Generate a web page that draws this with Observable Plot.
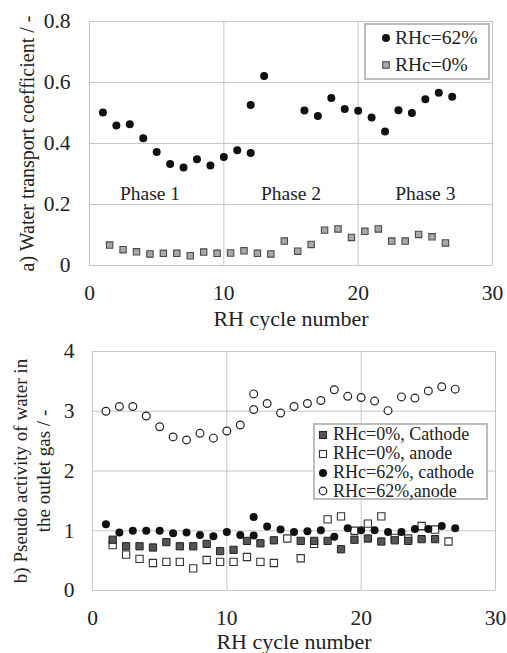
<!DOCTYPE html>
<html>
<head>
<meta charset="utf-8">
<script src="https://cdn.jsdelivr.net/npm/d3@7"></script>
<script src="https://cdn.jsdelivr.net/npm/@observablehq/plot@0.6"></script>
<style>
  html, body { margin: 0; padding: 0; background: #fff; }
  #chart { position: relative; width: 507px; height: 653px; font-family: 'Liberation Serif', serif; color: #222; }
  #chart svg.plot { display: block; }
  #chart svg text { font-family: 'Liberation Serif', serif; }
  .legend { position: absolute; background: #fff; border: 2px solid #bdbdbd; box-sizing: border-box; }
  .lg-sym { position: absolute; overflow: visible; }
  .lg-txt { position: absolute; white-space: nowrap; color: #222; font-family: 'Liberation Serif', serif; }
</style>
</head>
<body>
<div id="chart"></div>
<script>
// ---------- Panel a) data ----------
const aX62 = [1,2,3,4,5,6,7,8,9,10,11,12,12,13,16,17,18,19,20,21,22,23,24,25,26,27];
const aY62 = [0.502,0.459,0.463,0.417,0.372,0.333,0.321,0.348,0.328,0.356,0.378,0.369,0.526,0.621,0.508,0.490,0.549,0.513,0.507,0.485,0.439,0.509,0.500,0.545,0.566,0.553];
const aX0 = [1.5,2.5,3.5,4.5,5.5,6.5,7.5,8.5,9.5,10.5,11.5,12.5,13.5,14.5,15.5,16.5,17.5,18.5,19.5,20.5,21.5,22.5,23.5,24.5,25.5,26.5];
const aY0 = [0.067,0.052,0.045,0.038,0.040,0.040,0.032,0.044,0.040,0.041,0.048,0.040,0.038,0.080,0.047,0.069,0.116,0.120,0.092,0.112,0.120,0.080,0.080,0.102,0.094,0.074];
const phaseLabels = ["Phase 1","Phase 2","Phase 3"];
const phaseX = [4.5,15,25];
const phaseY = [0.235,0.235,0.235];
const aXTicks = [0,10,20,30];
const aYTicks = [0,0.2,0.4,0.6,0.8];

// ---------- Panel b) data ----------
const bX62 = [1,2,3,4,5,6,7,8,9,10,11,12,12,13,14,15,16,17,18,19,20,21,22,23,24,25,26,27];
const bAnode62 = [3.00,3.08,3.08,2.92,2.74,2.57,2.52,2.63,2.55,2.67,2.77,3.03,3.29,3.13,2.97,3.08,3.13,3.18,3.36,3.25,3.23,3.17,3.01,3.24,3.22,3.34,3.41,3.37];
const bCathode62 = [1.11,0.97,1.00,1.00,1.00,0.96,0.97,0.93,0.91,0.98,0.93,0.92,1.23,1.07,1.02,0.98,0.99,1.01,0.90,1.04,1.01,1.01,0.98,0.98,1.03,1.03,1.08,1.04];
const bXCathode0 = [1.5,2.5,3.5,4.5,5.5,6.5,7.5,8.5,9.5,10.5,11.5,12.5,13.5,15.5,16.5,17.5,18.5,19.5,20.5,21.5,22.5,23.5,24.5,25.5];
const bCathode0 = [0.85,0.74,0.74,0.72,0.81,0.74,0.74,0.78,0.66,0.68,0.83,0.79,0.84,0.83,0.83,0.83,0.69,0.85,0.87,0.82,0.84,0.83,0.86,0.86];
const bXAnode0 = [1.5,2.5,3.5,4.5,5.5,6.5,7.5,8.5,9.5,10.5,11.5,12.5,13.5,14.5,15.5,16.5,17.5,18.5,19.5,20.5,21.5,22.5,23.5,24.5,25.5,26.5];
const bAnode0 = [0.76,0.60,0.53,0.46,0.48,0.48,0.37,0.51,0.48,0.48,0.56,0.48,0.46,0.87,0.54,0.78,1.19,1.24,1.00,1.12,1.24,0.88,0.87,1.08,1.02,0.82];
const bXTicks = [0,10,20,30];
const bYTicks = [0,1,2,3,4];

const pts = (xs, ys) => xs.map((x, i) => ({x, y: ys[i]}));
const gridC = "#c6c6c6";
const txtC = "#222";
const fontFam = "Liberation Serif";
const svgStyle = "font-family: 'Liberation Serif', serif; background: #fff; color: #222;";

const chart = document.getElementById("chart");

// ---------- Panel a ----------
const plotA = Plot.plot({
  width: 507, height: 330,
  marginTop: 21, marginRight: 15, marginBottom: 65, marginLeft: 89,
  style: svgStyle,
  x: {domain: [0, 30]},
  y: {domain: [0, 0.8]},
  marks: [
    Plot.gridX(aXTicks.slice(1, -1), {stroke: gridC, strokeOpacity: 1}),
    Plot.gridY(aYTicks.slice(1, -1), {stroke: gridC, strokeOpacity: 1}),
    Plot.frame({stroke: gridC}),
    Plot.axisX(aXTicks, {tickSize: 0, tickPadding: 19, fontSize: 21.5, fontFamily: fontFam, fill: txtC, label: null}),
    Plot.axisY(aYTicks, {tickSize: 0, tickPadding: 19, fontSize: 21.5, fontFamily: fontFam, fill: txtC, label: null, tickFormat: d => String(d)}),
    Plot.text(["a) Water transport coefficient / -"], {frameAnchor: "left", rotate: -90, dx: -62, fontSize: 20, fontFamily: fontFam, fill: txtC, textAnchor: "middle", lineAnchor: "middle"}),
    Plot.text(["RH cycle number"], {frameAnchor: "bottom", dy: 53, fontSize: 22, fontFamily: fontFam, fill: txtC, textAnchor: "middle", lineAnchor: "middle"}),
    Plot.text(phaseLabels.map((t, i) => ({t, x: phaseX[i], y: phaseY[i]})), {x: "x", y: "y", text: "t", fontSize: 19.5, fontFamily: fontFam, fill: txtC}),
    Plot.dot(pts(aX0, aY0), {x: "x", y: "y", symbol: "square", r: 3.6, fill: "#a9a9a9", stroke: "#4a4a4a", strokeWidth: 1.1}),
    Plot.dot(pts(aX62, aY62), {x: "x", y: "y", r: 4, fill: "#111", stroke: "none"})
  ]
});
chart.appendChild(plotA);

// ---------- Panel b ----------
const plotB = Plot.plot({
  width: 507, height: 323,
  marginTop: 21, marginRight: 12, marginBottom: 63, marginLeft: 92,
  style: svgStyle,
  x: {domain: [0, 30]},
  y: {domain: [0, 4]},
  marks: [
    Plot.gridX(bXTicks.slice(1, -1), {stroke: gridC, strokeOpacity: 1}),
    Plot.gridY(bYTicks.slice(1, -1), {stroke: gridC, strokeOpacity: 1}),
    Plot.frame({stroke: gridC}),
    Plot.axisX(bXTicks, {tickSize: 0, tickPadding: 19, fontSize: 21.5, fontFamily: fontFam, fill: txtC, label: null}),
    Plot.axisY(bYTicks, {tickSize: 0, tickPadding: 18, fontSize: 21.5, fontFamily: fontFam, fill: txtC, label: null, tickFormat: d => String(d)}),
    Plot.text(["b) Pseudo activity of water in\nthe outlet gas / -"], {frameAnchor: "left", rotate: -90, dx: -61, fontSize: 19, lineHeight: 1.2, fontFamily: fontFam, fill: txtC, textAnchor: "middle", lineAnchor: "middle"}),
    Plot.text(["RH cycle number"], {frameAnchor: "bottom", dy: 51, fontSize: 22, fontFamily: fontFam, fill: txtC, textAnchor: "middle", lineAnchor: "middle"}),
    Plot.dot(pts(bXAnode0, bAnode0), {x: "x", y: "y", symbol: "square", r: 4.1, fill: "#fff", stroke: "#333", strokeWidth: 1.1}),
    Plot.dot(pts(bXCathode0, bCathode0), {x: "x", y: "y", symbol: "square", r: 4.1, fill: "#555", stroke: "#222", strokeWidth: 1}),
    Plot.dot(pts(bX62, bAnode62), {x: "x", y: "y", r: 3.9, fill: "#fff", stroke: "#222", strokeWidth: 1.2}),
    Plot.dot(pts(bX62, bCathode62), {x: "x", y: "y", r: 4, fill: "#111", stroke: "none"})
  ]
});
chart.appendChild(plotB);

// ---------- Legends (HTML overlays) ----------
function symbolSVG(kind, cx, cy) {
  const ns = "http://www.w3.org/2000/svg";
  const svg = document.createElementNS(ns, "svg");
  svg.setAttribute("class", "lg-sym");
  svg.setAttribute("width", 12); svg.setAttribute("height", 12);
  svg.style.left = (cx - 6) + "px"; svg.style.top = (cy - 6) + "px";
  let el;
  if (kind.shape === "circle") {
    el = document.createElementNS(ns, "circle");
    el.setAttribute("cx", 6); el.setAttribute("cy", 6); el.setAttribute("r", kind.r);
  } else {
    el = document.createElementNS(ns, "rect");
    el.setAttribute("x", 6 - kind.s / 2); el.setAttribute("y", 6 - kind.s / 2);
    el.setAttribute("width", kind.s); el.setAttribute("height", kind.s);
  }
  el.setAttribute("fill", kind.fill);
  el.setAttribute("stroke", kind.stroke);
  el.setAttribute("stroke-width", kind.sw || 0);
  svg.appendChild(el);
  return svg;
}
function legend(box, items, symX, txtX, rows, fontSize, lineH) {
  const div = document.createElement("div");
  div.className = "legend";
  Object.assign(div.style, {left: box.x + "px", top: box.y + "px", width: box.w + "px", height: box.h + "px"});
  chart.appendChild(div);
  items.forEach((it, i) => {
    chart.appendChild(symbolSVG(it.sym, symX, rows[i]));
    const s = document.createElement("span");
    s.className = "lg-txt";
    s.textContent = it.label;
    Object.assign(s.style, {left: txtX + "px", top: (rows[i] - lineH / 2) + "px", fontSize: fontSize + "px", lineHeight: lineH + "px"});
    chart.appendChild(s);
  });
}
const legendA = ["RHc=62%", "RHc=0%"];
legend({x: 364, y: 23, w: 126, h: 57}, [
  {label: legendA[0], sym: {shape: "circle", r: 4, fill: "#111", stroke: "none"}},
  {label: legendA[1], sym: {shape: "rect", s: 6.5, fill: "#a9a9a9", stroke: "#4a4a4a", sw: 1.1}}
], 386, 395, [38, 65], 19.5, 22);

const legendB = ["RHc=0%, Cathode", "RHc=0%, anode", "RHc=62%, cathode", "RHc=62%,anode"];
legend({x: 313, y: 330 + 93, w: 175, h: 77}, [
  {label: legendB[0], sym: {shape: "rect", s: 7, fill: "#555", stroke: "#222", sw: 1}},
  {label: legendB[1], sym: {shape: "rect", s: 7, fill: "#fff", stroke: "#333", sw: 1.1}},
  {label: legendB[2], sym: {shape: "circle", r: 4, fill: "#111", stroke: "none"}},
  {label: legendB[3], sym: {shape: "circle", r: 3.8, fill: "#fff", stroke: "#222", sw: 1.2}}
], 323, 333, [434.5, 453.5, 472.5, 491], 18, 19);
</script>
</body>
</html>
